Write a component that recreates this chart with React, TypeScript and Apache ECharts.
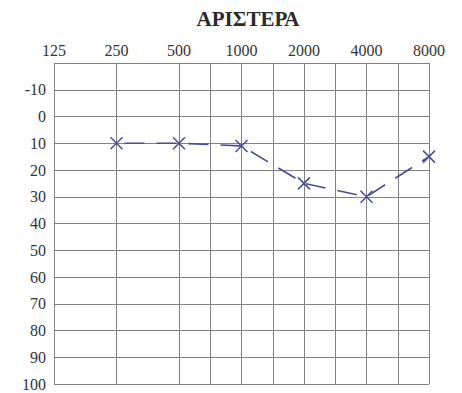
import React, { useEffect, useRef } from "react";
import * as echarts from "echarts";

const freqLabels = ["125", "250", "500", "1000", "2000", "4000", "8000"];
// x = octave index (0 = 125 Hz), y = hearing level in dB
const leftEarIndex = [1, 2, 3, 4, 5, 6];
const leftEarDb = [10, 10, 11, 25, 30, 15];
const dbMin = -20;
const dbMax = 100;
const titleText = "ΑΡΙΣΤΕΡΑ";

const GRID = "#828282";
const INK = "#4a4a98";
const FONT = "'Liberation Serif', 'DejaVu Serif', serif";

export default function App() {
  const ref = useRef<HTMLDivElement>(null);
  useEffect(() => {
    if (!ref.current) return;
    const chart = echarts.init(ref.current, undefined, { renderer: "svg" });
    // split lines at every 0.5 octave, but none at 0.5 and 1.5
    const splitColors: string[] = [];
    for (let i = 0; i <= 12; i++) {
      splitColors.push(i === 1 || i === 3 ? "rgba(0,0,0,0)" : GRID);
    }
    chart.setOption({
      animation: false,
      backgroundColor: "#ffffff",
      graphic: [
        {
          type: "text",
          x: 248,
          y: 19,
          style: {
            text: titleText,
            font: `bold 21px ${FONT}`,
            fill: "#2a2a2a",
            textAlign: "center",
            textVerticalAlign: "middle",
          },
        },
      ],
      grid: { left: 54, right: 33, top: 63, bottom: 9 },
      xAxis: {
        type: "value",
        position: "top",
        min: 0,
        max: 6,
        interval: 0.5,
        axisLine: { show: false },
        axisTick: { show: false },
        axisLabel: {
          margin: 5,
          fontFamily: FONT,
          fontSize: 16,
          color: "#333",
          formatter: (v: number) =>
            Number.isInteger(v) ? freqLabels[v] ?? "" : "",
        },
        splitLine: { show: true, lineStyle: { color: splitColors, width: 1 } },
      },
      yAxis: {
        type: "value",
        inverse: true,
        min: dbMin,
        max: dbMax,
        interval: 10,
        axisLine: { show: false },
        axisTick: { show: false },
        axisLabel: {
          margin: 8,
          fontFamily: FONT,
          fontSize: 16,
          color: "#333",
          formatter: (v: number) => (v === dbMin ? "" : String(v)),
        },
        splitLine: { show: true, lineStyle: { color: GRID, width: 1 } },
      },
      series: [
        {
          type: "line",
          data: leftEarIndex.map((x, i) => [x, leftEarDb[i]]),
          symbol: "path://M0,0L10,10M10,0L0,10",
          symbolSize: 12,
          showSymbol: true,
          itemStyle: { color: "rgba(0,0,0,0)", borderColor: INK, borderWidth: 1.5 },
          lineStyle: { color: INK, width: 1.6, type: [20, 12], dashOffset: -8 },
          z: 5,
        },
      ],
    });
    return () => chart.dispose();
  }, []);
  return (
    <div
      ref={ref}
      style={{ position: "fixed", left: 0, top: 0, width: 462, height: 393, background: "#fff" }}
    />
  );
}
